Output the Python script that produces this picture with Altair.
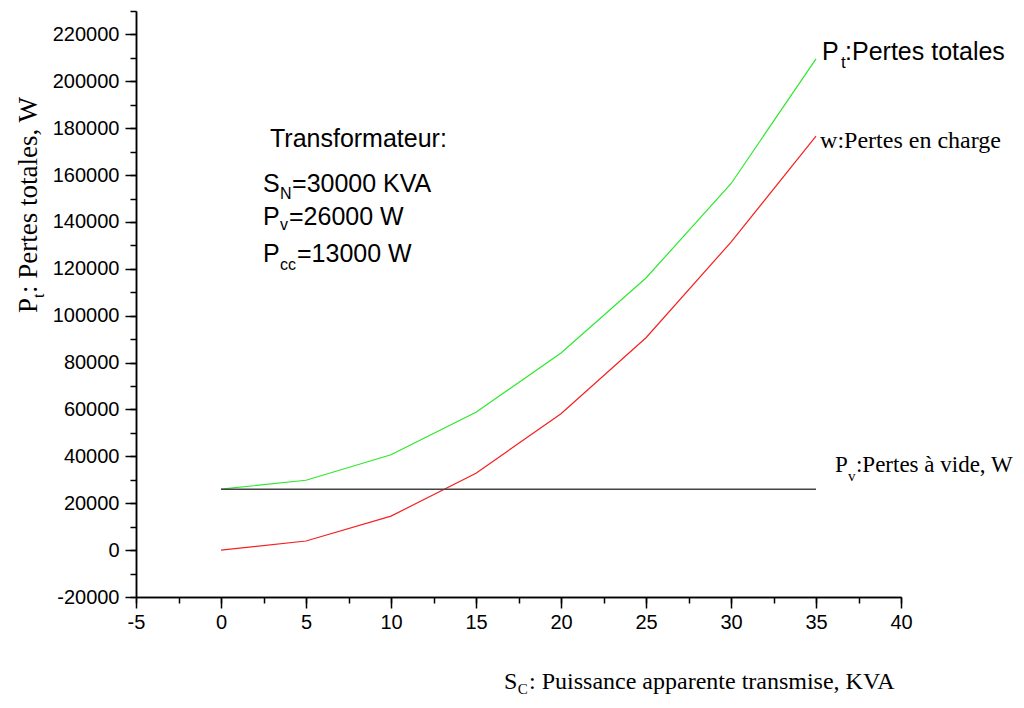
import altair as alt
import pandas as pd

# ---- data ----
S_kva = [0, 5, 10, 15, 20, 25, 30, 35]
pertes_totales = [26000, 29800, 40700, 58800, 84100, 116100, 156300, 209600]
pertes_charge = [0, 3900, 14500, 32800, 58200, 90600, 131400, 176600]
pv_S = [0, 35]
pertes_vide = [26000, 26000]

x_major = [-5, 0, 5, 10, 15, 20, 25, 30, 35, 40]
x_minor = [-5, -2.5, 0, 2.5, 5, 7.5, 10, 12.5, 15, 17.5, 20, 22.5, 25, 27.5, 30, 32.5, 35, 37.5, 40]
y_major = [-20000, 0, 20000, 40000, 60000, 80000, 100000, 120000, 140000, 160000, 180000, 200000, 220000]
y_minor = [-20000, -10000, 0, 10000, 20000, 30000, 40000, 50000, 60000, 70000, 80000, 90000, 100000,
           110000, 120000, 130000, 140000, 150000, 160000, 170000, 180000, 190000, 200000, 210000,
           220000, 230000]

SANS = "Liberation Sans, Arial, sans-serif"
SERIF = "Liberation Serif, Times New Roman, serif"

# annotation texts (data coordinates)
sans_txt = ["Transformateur:", "S", "N", "=30000 KVA", "P", "v", "=26000 W", "P", "cc", "=13000 W",
            "P", "t", ":Pertes totales"]
sans_x = [2.88, 2.47, 3.47, 4.18, 2.47, 3.47, 4.0, 2.47, 3.47, 4.47, 35.35, 36.47, 36.71]
sans_y = [171980, 152785, 149800, 152785, 138708, 136500, 138708, 122923, 119511, 122923,
          209097, 205684, 209097]
sans_size = [25, 25, 16, 25, 25, 16, 25, 25, 16, 25, 25, 17, 25]

serif_txt = ["w:Pertes en charge", "P", "v", ":Pertes à vide, W", "S", "C", ": Puissance apparente transmise, KVA"]
serif_x = [35.24, 36.12, 36.88, 37.35, 16.65, 17.45, 18.12]
serif_y = [171556, 33337, 29498, 33337, -59300, -61500, -59300]
serif_size = [24, 23, 15, 23, 24, 15, 24]

rot_txt = ["P", "t", ": Pertes totales, W"]
rot_x = [-10.82, -10.41, -10.82]
rot_y = [101167, 107566, 109699]
rot_size = [27, 16, 27]

df_lines = pd.DataFrame({
    "S": S_kva + S_kva,
    "P": pertes_totales + pertes_charge,
    "serie": ["Pt"] * len(S_kva) + ["w"] * len(S_kva),
})
df_pv = pd.DataFrame({"S": pv_S, "P": pertes_vide})
df_sans = pd.DataFrame({"x": sans_x, "y": sans_y, "t": sans_txt, "s": sans_size})
df_serif = pd.DataFrame({"x": serif_x, "y": serif_y, "t": serif_txt, "s": serif_size})
df_rot = pd.DataFrame({"x": rot_x, "y": rot_y, "t": rot_txt, "s": rot_size})

xscale = alt.Scale(domain=[-5, 40], nice=False, zero=False)
yscale = alt.Scale(domain=[-20000, 230000], nice=False, zero=False)

common_axis = dict(grid=False, title=None, domainColor="black", tickColor="black",
                   labelColor="black", domainWidth=1.5, tickWidth=1.5)

major_x = alt.Axis(orient="bottom", values=x_major, tickSize=11, labelFontSize=20, labelFont=SANS,
                   labelPadding=4, labelFlush=False, labelOverlap=False,
                   labelExpr="'' + datum.value", **common_axis)
major_y = alt.Axis(orient="left", values=y_major, tickSize=11, labelFontSize=20, labelFont=SANS,
                   labelPadding=6, labelOverlap=False, labelExpr="'' + datum.value", **common_axis)
minor_x = alt.Axis(orient="bottom", values=x_minor, tickSize=6, labels=False, **common_axis)
minor_y = alt.Axis(orient="left", values=y_minor, tickSize=6, labels=False, **common_axis)

lines = alt.Chart(df_lines).mark_line(strokeWidth=1.2).encode(
    x=alt.X("S:Q", scale=xscale, axis=major_x),
    y=alt.Y("P:Q", scale=yscale, axis=major_y),
    color=alt.Color("serie:N", scale=alt.Scale(domain=["Pt", "w"], range=["#2ee82e", "#f52020"]), legend=None),
)

pv = alt.Chart(df_pv).mark_line(strokeWidth=1.5, color="#444444").encode(
    x=alt.X("S:Q", scale=xscale, axis=minor_x),
    y=alt.Y("P:Q", scale=yscale, axis=minor_y),
)

def text_layer(df, font, angle=0):
    return alt.Chart(df).mark_text(font=font, align="left", baseline="alphabetic", angle=angle,
                                   color="black").encode(
        x=alt.X("x:Q", scale=xscale, axis=None),
        y=alt.Y("y:Q", scale=yscale, axis=None),
        text="t:N",
        size=alt.Size("s:Q", scale=None),
    )

chart = alt.layer(
    lines, pv,
    text_layer(df_sans, SANS),
    text_layer(df_serif, SERIF),
    text_layer(df_rot, SERIF, angle=270),
).resolve_axis(x="independent", y="independent").properties(
    width=765, height=586,
    autosize=alt.AutoSizeParams(type="none"),
    padding={"left": 128, "top": 3, "right": 115, "bottom": 99},
    background="white",
).configure_view(stroke=None)

chart.save("out.html", embed_options={"renderer": "svg", "actions": False})
